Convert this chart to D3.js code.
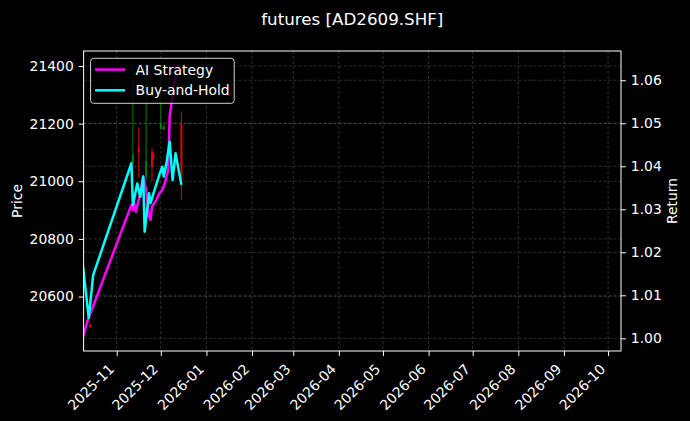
<!DOCTYPE html>
<html>
<head>
<meta charset="utf-8">
<script src="https://cdn.jsdelivr.net/npm/d3@7"></script>
<style>
  html, body { margin: 0; padding: 0; background: #000; }
  svg { display: block; font-family: "DejaVu Sans", sans-serif; }
</style>
</head>
<body>
<svg id="chart" width="690" height="421"></svg>
<script>
// candles (price axis)
var candleDates = ["2025-10-14", "2025-11-12", "2025-11-16", "2025-11-21", "2025-11-25",
                   "2025-11-26", "2025-12-01", "2025-12-03", "2025-12-15"];
var opens  = [20502, 21065, 21120, 21015, 21100, 21095, 21180, 21180, 21200];
var highs  = [20505, 21400, 21187, 21405, 21117, 21103, 21400, 21195, 21242];
var lows   = [20490, 21060, 21013, 21000, 21000, 21075, 21180, 21178, 20936];
var closes = [20494, 21093, 21100, 21070, 21050, 21080, 21200, 21190, 21000];

// return lines (right axis)
var aiDates = ["2025-10-09", "2025-10-12", "2025-10-16", "2025-11-11", "2025-11-12", "2025-11-13",
               "2025-11-14", "2025-11-17", "2025-11-19", "2025-11-21", "2025-11-23", "2025-11-24",
               "2025-11-25", "2025-11-28", "2025-11-30", "2025-12-02", "2025-12-04", "2025-12-06",
               "2025-12-07", "2025-12-10", "2025-12-13"];
var aiValues = [1.0002, 1.0039, 1.0075, 1.0310, 1.0298, 1.0314, 1.0294, 1.0337, 1.0376, 1.0345,
                1.0283, 1.0275, 1.0306, 1.0322, 1.0337, 1.0345, 1.0364, 1.0391, 1.0515, 1.0593, 1.0636];

var bhDates = ["2025-10-09", "2025-10-13", "2025-10-16", "2025-11-11", "2025-11-12", "2025-11-15",
               "2025-11-17", "2025-11-19", "2025-11-20", "2025-11-23", "2025-11-24", "2025-11-26",
               "2025-11-30", "2025-12-02", "2025-12-03", "2025-12-05", "2025-12-07", "2025-12-09",
               "2025-12-11", "2025-12-15"];
var bhValues = [1.0170, 1.0047, 1.0147, 1.0407, 1.0310, 1.0360, 1.0329, 1.0376, 1.0248, 1.0337,
                1.0314, 1.0337, 1.0380, 1.0399, 1.0376, 1.0411, 1.0457, 1.0368, 1.0430, 1.0357];

var priceTicks = [20600, 20800, 21000, 21200, 21400];
var returnTicks = [1.00, 1.01, 1.02, 1.03, 1.04, 1.05, 1.06];
var seriesNames = ["AI Strategy", "Buy-and-Hold"];
var seriesColors = ["#ff00ff", "#00ffff"];

var parse = d3.utcParse("%Y-%m-%d");
var pL = 83.6, pR = 621, pT = 51, pB = 351;
var FONT = "DejaVu Sans";

var svg = d3.select("#chart");

var x = d3.scaleUtc()
  .domain([new Date(Date.UTC(2025, 9, 9, 12)), new Date(Date.UTC(2026, 9, 9, 19))])
  .range([pL, pR]);
var yP = d3.scaleLinear().domain([20411, 21452]).range([pB, pT]);
var yR = d3.scaleLinear().domain([0.99705, 1.0668]).range([pB, pT]);

var monthTicks = d3.utcMonth.range(new Date(Date.UTC(2025, 10, 1)), new Date(Date.UTC(2026, 9, 2)));

svg.append("defs").append("clipPath").attr("id", "clip")
  .append("rect").attr("x", pL).attr("y", pT).attr("width", pR - pL).attr("height", pB - pT);

// grid
var grid = svg.append("g").attr("stroke", "#ffffff").attr("stroke-opacity", 0.3)
  .attr("stroke-width", 0.6).attr("stroke-dasharray", "3,2");
grid.selectAll(".vx").data(monthTicks).enter().append("line")
  .attr("x1", function(d) { return x(d); }).attr("x2", function(d) { return x(d); })
  .attr("y1", pT).attr("y2", pB);
grid.selectAll(".hp").data(priceTicks).enter().append("line")
  .attr("x1", pL).attr("x2", pR)
  .attr("y1", function(d) { return yP(d); }).attr("y2", function(d) { return yP(d); });
grid.selectAll(".hr").data(returnTicks).enter().append("line")
  .attr("x1", pL).attr("x2", pR)
  .attr("y1", function(d) { return yR(d); }).attr("y2", function(d) { return yR(d); });

var plot = svg.append("g").attr("clip-path", "url(#clip)");

// candles
var candles = candleDates.map(function(d, i) {
  return {date: parse(d), o: opens[i], h: highs[i], l: lows[i], c: closes[i]};
});
var cg = plot.selectAll(".candle").data(candles).enter().append("g");
cg.append("line")
  .attr("x1", function(d) { return x(d.date); }).attr("x2", function(d) { return x(d.date); })
  .attr("y1", function(d) { return yP(d.h); }).attr("y2", function(d) { return yP(d.l); })
  .attr("stroke", function(d) { return d.c >= d.o ? "#008000" : "#e00000"; })
  .attr("stroke-width", 1);
cg.append("rect")
  .attr("x", function(d) { return x(d.date) - 1; })
  .attr("width", 2)
  .attr("y", function(d) { return yP(Math.max(d.o, d.c)); })
  .attr("height", function(d) { return Math.max(1, Math.abs(yP(d.o) - yP(d.c))); })
  .attr("fill", function(d) { return d.c >= d.o ? "#008000" : "#e00000"; });

// return lines
var line = d3.line()
  .x(function(d) { return x(d[0]); })
  .y(function(d) { return yR(d[1]); });
var series = [
  aiDates.map(function(d, i) { return [parse(d), aiValues[i]]; }),
  bhDates.map(function(d, i) { return [parse(d), bhValues[i]]; })
];
plot.selectAll(".ret").data(series).enter().append("path")
  .attr("d", line)
  .attr("fill", "none")
  .attr("stroke", function(d, i) { return seriesColors[i]; })
  .attr("stroke-width", 2.5)
  .attr("stroke-linejoin", "round");

// frame
svg.append("rect").attr("x", pL).attr("y", pT).attr("width", pR - pL).attr("height", pB - pT)
  .attr("fill", "none").attr("stroke", "#ffffff").attr("stroke-width", 1);

// axes
var fs = "13.9px";
function styleAxis(g) {
  g.attr("font-family", FONT).attr("font-size", 13.9);
  g.select(".domain").remove();
  g.selectAll("line").attr("stroke", "#fff");
  g.selectAll("text").attr("fill", "#fff");
}
var xAxis = svg.append("g").attr("transform", "translate(0," + pB + ")")
  .call(d3.axisBottom(x).tickValues(monthTicks).tickFormat(d3.utcFormat("%Y-%m")).tickSize(4.9).tickPadding(3))
  .call(styleAxis);
xAxis.selectAll("text")
  .attr("text-anchor", "end")
  .attr("y", 0).attr("dy", 0)
  .attr("transform", "translate(-2.3,19) rotate(-45)");

var yAxisL = svg.append("g").attr("transform", "translate(" + pL + ",0)")
  .call(d3.axisLeft(yP).tickValues(priceTicks).tickFormat(d3.format("d")).tickSize(4.9).tickPadding(4.9))
  .call(styleAxis);

var yAxisR = svg.append("g").attr("transform", "translate(" + pR + ",0)")
  .call(d3.axisRight(yR).tickValues(returnTicks).tickFormat(d3.format(".2f")).tickSize(4.9).tickPadding(4.9))
  .call(styleAxis);

// labels
svg.append("text").attr("x", (pL + pR) / 2).attr("y", 25)
  .attr("text-anchor", "middle").attr("fill", "#fff").style("font-size", "16.7px")
  .text("futures [AD2609.SHF]");
svg.append("text").attr("transform", "translate(21.5," + (pT + pB) / 2 + ") rotate(-90)")
  .attr("text-anchor", "middle").attr("fill", "#fff").style("font-size", fs).text("Price");
svg.append("text").attr("transform", "translate(677," + (pT + pB) / 2 + ") rotate(-90)")
  .attr("text-anchor", "middle").attr("fill", "#fff").style("font-size", fs).text("Return");

// legend
var lg = svg.append("g").attr("transform", "translate(" + (pL + 7) + "," + (pT + 7.3) + ")");
lg.append("rect").attr("width", 143.6).attr("height", 45).attr("rx", 3)
  .attr("fill", "#000").attr("fill-opacity", 0.8)
  .attr("stroke", "#d0d0d0").attr("stroke-width", 1);
var items = lg.selectAll(".item").data(seriesNames).enter().append("g")
  .attr("transform", function(d, i) { return "translate(0," + (11.3 + i * 20.7) + ")"; });
items.append("line").attr("x1", 4.5).attr("x2", 34.5)
  .attr("stroke", function(d, i) { return seriesColors[i]; }).attr("stroke-width", 2.5);
items.append("text").attr("x", 45).attr("dy", "0.36em")
  .attr("fill", "#fff").style("font-size", fs).text(function(d) { return d; });
</script>
</body>
</html>
